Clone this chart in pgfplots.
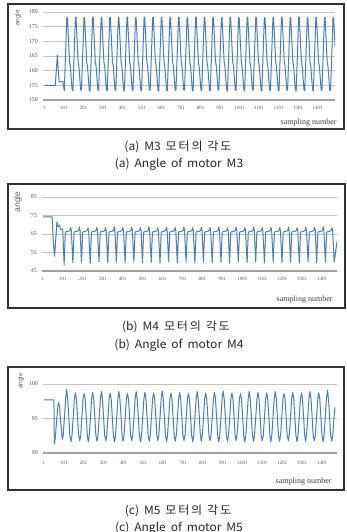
\documentclass[border=0pt]{standalone}
\usepackage{pgfplots}
\pgfplotsset{compat=1.18}
\usepackage{fontspec}
\setmainfont{Liberation Serif}
\newfontfamily\kr[FakeStretch=1.05, WordSpace=1.8]{Noto Sans CJK KR}
\newfontfamily\lsans{Liberation Sans}
\newcommand{\ks}{\hspace{1.8pt}}
\definecolor{exblue}{RGB}{74,126,187}
\definecolor{gridgray}{RGB}{195,195,195}
\definecolor{axisgray}{RGB}{160,160,160}
\definecolor{tickgray}{RGB}{90,90,90}
\pgfplotsset{
 panel/.style={
  scale only axis, anchor=south west,
  axis x line*=bottom, axis y line*=left,
  x axis line style={draw=axisgray, line width=2.4pt},
  y axis line style={draw=none},
  major tick length=0pt,
  ymajorgrids, grid style={draw=gridgray, line width=0.5pt},
  xtick={1,101,...,1401},
  tick label style={text=tickgray},
  xticklabel style={font=\fontsize{5}{6}\selectfont, anchor=north, inner sep=0pt, yshift=-6pt},
  yticklabel style={font=\fontsize{6}{7}\selectfont, anchor=east, inner sep=0pt, xshift=-5pt},
  /pgf/number format/assume math mode=true,
  /pgf/number format/1000 sep={},
 },
 dline/.style={exblue, line width=1pt, no markers, line join=round}
}
\begin{document}
\begin{tikzpicture}[x=1pt,y=1pt]
\useasboundingbox (0,0) rectangle (347,532);
\fill[white] (0,0) rectangle (347,532);
% ---------------- panel (a)
\draw[line width=1.1pt, black!80] (8,403) rectangle (344,528);
\begin{axis}[panel, at={(43pt,432pt)}, width=292pt, height=88pt,
  xmin=-6, xmax=1490, ymin=150, ymax=180, ytick={150,155,...,180}]
\addplot[dline] coordinates {
(1,155.0)(57,155.0)(64,162)(68,165.3)(72,160)(77,156.2)(96,156.3)
(103,153.2)(116,178.0)(119,178.2)(125,170)(130,163)(134,161.5)(139,157)(143,153.5)
(147,153.1)(160,178.1)(163,178.3)(169,170)(174,163)(178,161.5)(183,157)(187,153.5)
(191,153.3)(204,178.0)(207,178.1)(213,170)(218,163)(222,161.5)(227,157)(231,153.4)
(235,153.0)(248,178.2)(251,178.3)(257,170)(262,163)(266,161.5)(271,157)(275,153.5)
(279,153.2)(292,178.0)(295,178.2)(301,170)(306,163)(310,161.5)(315,157)(319,153.5)
(323,153.1)(336,178.1)(339,178.2)(345,170)(350,163)(354,161.5)(359,157)(363,153.4)
(367,153.3)(380,178.0)(383,178.2)(389,170)(394,163)(398,161.5)(403,157)(407,153.5)
(411,153.0)(424,178.1)(427,178.3)(433,170)(438,163)(442,161.5)(447,157)(451,153.5)
(455,153.2)(468,178.0)(471,178.1)(477,170)(482,163)(486,161.5)(491,157)(495,153.4)
(499,153.1)(512,178.2)(515,178.3)(521,170)(526,163)(530,161.5)(535,157)(539,153.5)
(543,153.3)(556,178.0)(559,178.2)(565,170)(570,163)(574,161.5)(579,157)(583,153.5)
(587,153.0)(600,178.1)(603,178.2)(609,170)(614,163)(618,161.5)(623,157)(627,153.4)
(631,153.2)(644,178.0)(647,178.2)(653,170)(658,163)(662,161.5)(667,157)(671,153.5)
(675,153.1)(688,178.1)(691,178.3)(697,170)(702,163)(706,161.5)(711,157)(715,153.5)
(719,153.3)(732,178.0)(735,178.1)(741,170)(746,163)(750,161.5)(755,157)(759,153.4)
(763,153.0)(776,178.2)(779,178.3)(785,170)(790,163)(794,161.5)(799,157)(803,153.5)
(807,153.2)(820,178.0)(823,178.2)(829,170)(834,163)(838,161.5)(843,157)(847,153.5)
(851,153.1)(864,178.1)(867,178.2)(873,170)(878,163)(882,161.5)(887,157)(891,153.4)
(895,153.3)(908,178.0)(911,178.2)(917,170)(922,163)(926,161.5)(931,157)(935,153.5)
(939,153.0)(952,178.1)(955,178.3)(961,170)(966,163)(970,161.5)(975,157)(979,153.5)
(983,153.2)(996,178.0)(999,178.1)(1005,170)(1010,163)(1014,161.5)(1019,157)(1023,153.4)
(1027,153.1)(1040,178.2)(1043,178.3)(1049,170)(1054,163)(1058,161.5)(1063,157)(1067,153.5)
(1071,153.3)(1084,178.0)(1087,178.2)(1093,170)(1098,163)(1102,161.5)(1107,157)(1111,153.5)
(1115,153.0)(1128,178.1)(1131,178.2)(1137,170)(1142,163)(1146,161.5)(1151,157)(1155,153.4)
(1159,153.2)(1172,178.0)(1175,178.2)(1181,170)(1186,163)(1190,161.5)(1195,157)(1199,153.5)
(1203,153.1)(1216,178.1)(1219,178.3)(1225,170)(1230,163)(1234,161.5)(1239,157)(1243,153.5)
(1247,153.3)(1260,178.0)(1263,178.1)(1269,170)(1274,163)(1278,161.5)(1283,157)(1287,153.4)
(1291,153.0)(1304,178.2)(1307,178.3)(1313,170)(1318,163)(1322,161.5)(1327,157)(1331,153.5)
(1335,153.2)(1348,178.0)(1351,178.2)(1357,170)(1362,163)(1366,161.5)(1371,157)(1375,153.5)
(1379,153.1)(1392,178.1)(1395,178.2)(1401,170)(1406,163)(1410,161.5)(1415,157)(1419,153.4)
(1423,153.3)(1436,178.0)(1439,178.2)(1445,170)(1450,163)(1454,161.5)(1459,157)(1463,153.5)
(1467,153.1)(1480,178.1)(1483,178.2)(1489,170)(1490,168.5)
};
\end{axis}
\node[rotate=90, font=\lsans\fontsize{6.5}{7}\selectfont, text=black!60] at (18,514) {angle};
\node[anchor=east, font=\fontsize{8}{9}\selectfont, text=black!75] at (340,409) {sampling number};
\node[font=\kr\fontsize{11.5}{13}\selectfont, text=black!85] at (178,385) {(a) M3 모\ks 터\ks 의 각\ks 도};
\node[font=\kr\fontsize{11.5}{13}\selectfont, text=black!85] at (179,368) {(a) Angle of motor M3};
% ---------------- panel (b)
\draw[line width=1.1pt, black!80] (8,224) rectangle (345,348);
\begin{axis}[panel, at={(42pt,261pt)}, width=295pt, height=74pt,
  xmin=-4, xmax=1476, ymin=45, ymax=85, ytick={45,55,...,85}]
\addplot[dline] coordinates {
(1,74.3)(47,74.3)(52,62)(59,53)(71,71.5)(77,69)(84,69.8)(90,67.5)(100,67.5)
(107,48.3)(113,66)(117,66.2)(130,66.5)(136,67)(140,68.5)(143,66.8)
(151,49.5)(157,66)(161,66.2)(174,66.5)(180,67)(184,68.8)(187,66.8)
(194,49.8)(200,66)(204,66.2)(217,66.5)(223,67)(227,68.3)(230,66.8)
(238,49.2)(244,66)(248,66.2)(261,66.5)(267,67)(271,68.6)(274,66.8)
(282,50.0)(288,66)(292,66.2)(305,66.5)(311,67)(315,68.5)(318,66.8)
(326,49.5)(332,66)(336,66.2)(349,66.5)(355,67)(359,68.9)(362,66.8)
(369,49.8)(375,66)(379,66.2)(392,66.5)(398,67)(402,68.4)(405,66.8)
(413,49.3)(419,66)(423,66.2)(436,66.5)(442,67)(446,68.6)(449,66.8)
(457,49.9)(463,66)(467,66.2)(480,66.5)(486,67)(490,68.5)(493,66.8)
(500,49.5)(506,66)(510,66.2)(523,66.5)(529,67)(533,68.8)(536,66.8)
(544,49.7)(550,66)(554,66.2)(567,66.5)(573,67)(577,68.3)(580,66.8)
(588,49.2)(594,66)(598,66.2)(611,66.5)(617,67)(621,68.6)(624,66.8)
(631,50.0)(637,66)(641,66.2)(654,66.5)(660,67)(664,68.5)(667,66.8)
(675,49.5)(681,66)(685,66.2)(698,66.5)(704,67)(708,68.9)(711,66.8)
(719,49.8)(725,66)(729,66.2)(742,66.5)(748,67)(752,68.4)(755,66.8)
(763,49.3)(769,66)(773,66.2)(786,66.5)(792,67)(796,68.6)(799,66.8)
(806,49.9)(812,66)(816,66.2)(829,66.5)(835,67)(839,68.5)(842,66.8)
(850,49.5)(856,66)(860,66.2)(873,66.5)(879,67)(883,68.8)(886,66.8)
(894,49.7)(900,66)(904,66.2)(917,66.5)(923,67)(927,68.3)(930,66.8)
(937,49.2)(943,66)(947,66.2)(960,66.5)(966,67)(970,68.6)(973,66.8)
(981,50.0)(987,66)(991,66.2)(1004,66.5)(1010,67)(1014,68.5)(1017,66.8)
(1025,49.5)(1031,66)(1035,66.2)(1048,66.5)(1054,67)(1058,68.9)(1061,66.8)
(1068,49.8)(1074,66)(1078,66.2)(1091,66.5)(1097,67)(1101,68.4)(1104,66.8)
(1112,49.3)(1118,66)(1122,66.2)(1135,66.5)(1141,67)(1145,68.6)(1148,66.8)
(1156,49.9)(1162,66)(1166,66.2)(1179,66.5)(1185,67)(1189,68.5)(1192,66.8)
(1200,49.5)(1206,66)(1210,66.2)(1223,66.5)(1229,67)(1233,68.8)(1236,66.8)
(1243,49.7)(1249,66)(1253,66.2)(1266,66.5)(1272,67)(1276,68.3)(1279,66.8)
(1287,49.2)(1293,66)(1297,66.2)(1310,66.5)(1316,67)(1320,68.6)(1323,66.8)
(1331,50.0)(1337,66)(1341,66.2)(1354,66.5)(1360,67)(1364,68.5)(1367,66.8)
(1374,49.5)(1380,66)(1384,66.2)(1397,66.5)(1403,67)(1407,68.9)(1410,66.8)
(1418,49.8)(1424,66)(1428,66.2)(1441,66.5)(1447,67)(1451,68.4)(1454,66.8)
(1462,49.8)(1476,61)
};
\end{axis}
\node[rotate=90, font=\lsans\fontsize{8.5}{9}\selectfont, text=black!60] at (18,330) {angle};
\node[anchor=east, font=\fontsize{8}{9}\selectfont, text=black!75] at (336,232) {sampling number};
\node[font=\kr\fontsize{11.5}{13}\selectfont, text=black!85] at (176,205) {(b) M4 모\ks 터\ks 의 각\ks 도};
\node[font=\kr\fontsize{11.5}{13}\selectfont, text=black!85] at (179,187) {(b) Angle of motor M4};
% ---------------- panel (c)
\draw[line width=1.1pt, black!80] (8,42) rectangle (344,165);
\begin{axis}[panel, at={(43pt,79pt)}, width=294pt, height=69pt,
  xmin=-4, xmax=1476, ymin=90, ymax=100, ytick={90,95,100},
  xticklabel style={yshift=-2pt}]
\addplot[dline] coordinates {
(1,97.7)(51,97.7)(53,91.3)(58,92.2)(64,94.5)(71,96.8)(75,97.3)(79,96.8)(85,94.5)
(93,92.0)(98,92.6)(104,95.2)(110,97.9)(115,99.2)(120,97.9)(126,95.2)(131,92.6)
(137,91.6)(142,92.6)(148,95.2)(154,97.9)(159,98.7)(164,97.9)(170,95.2)(175,92.6)
(181,91.8)(186,92.6)(192,95.2)(198,97.9)(203,98.6)(208,97.9)(214,95.2)(219,92.6)
(224,91.6)(229,92.6)(235,95.2)(241,97.9)(246,98.8)(251,97.9)(257,95.2)(262,92.6)
(268,91.7)(273,92.6)(279,95.2)(285,97.9)(290,98.9)(295,97.9)(301,95.2)(306,92.6)
(312,91.8)(317,92.6)(323,95.2)(329,97.9)(334,98.7)(339,97.9)(345,95.2)(350,92.6)
(356,91.6)(361,92.6)(367,95.2)(373,97.9)(378,98.9)(383,97.9)(389,95.2)(394,92.6)
(399,91.7)(404,92.6)(410,95.2)(416,97.9)(421,98.6)(426,97.9)(432,95.2)(437,92.6)
(443,91.8)(448,92.6)(454,95.2)(460,97.9)(465,98.9)(470,97.9)(476,95.2)(481,92.6)
(487,91.6)(492,92.6)(498,95.2)(504,97.9)(509,98.8)(514,97.9)(520,95.2)(525,92.6)
(531,91.7)(536,92.6)(542,95.2)(548,97.9)(553,98.7)(558,97.9)(564,95.2)(569,92.6)
(574,91.8)(579,92.6)(585,95.2)(591,97.9)(596,99.0)(601,97.9)(607,95.2)(612,92.6)
(618,91.6)(623,92.6)(629,95.2)(635,97.9)(640,98.7)(645,97.9)(651,95.2)(656,92.6)
(662,91.7)(667,92.6)(673,95.2)(679,97.9)(684,98.8)(689,97.9)(695,95.2)(700,92.6)
(706,91.8)(711,92.6)(717,95.2)(723,97.9)(728,98.6)(733,97.9)(739,95.2)(744,92.6)
(750,91.6)(755,92.6)(761,95.2)(767,97.9)(772,98.9)(777,97.9)(783,95.2)(788,92.6)
(793,91.7)(798,92.6)(804,95.2)(810,97.9)(815,98.7)(820,97.9)(826,95.2)(831,92.6)
(837,91.8)(842,92.6)(848,95.2)(854,97.9)(859,98.8)(864,97.9)(870,95.2)(875,92.6)
(881,91.6)(886,92.6)(892,95.2)(898,97.9)(903,99.0)(908,97.9)(914,95.2)(919,92.6)
(925,91.7)(930,92.6)(936,95.2)(942,97.9)(947,98.7)(952,97.9)(958,95.2)(963,92.6)
(968,91.8)(973,92.6)(979,95.2)(985,97.9)(990,98.6)(995,97.9)(1001,95.2)(1006,92.6)
(1012,91.6)(1017,92.6)(1023,95.2)(1029,97.9)(1034,98.9)(1039,97.9)(1045,95.2)(1050,92.6)
(1056,91.7)(1061,92.6)(1067,95.2)(1073,97.9)(1078,98.8)(1083,97.9)(1089,95.2)(1094,92.6)
(1100,91.8)(1105,92.6)(1111,95.2)(1117,97.9)(1122,98.7)(1127,97.9)(1133,95.2)(1138,92.6)
(1143,91.6)(1148,92.6)(1154,95.2)(1160,97.9)(1165,98.9)(1170,97.9)(1176,95.2)(1181,92.6)
(1187,91.7)(1192,92.6)(1198,95.2)(1204,97.9)(1209,98.6)(1214,97.9)(1220,95.2)(1225,92.6)
(1231,91.8)(1236,92.6)(1242,95.2)(1248,97.9)(1253,98.8)(1258,97.9)(1264,95.2)(1269,92.6)
(1275,91.6)(1280,92.6)(1286,95.2)(1292,97.9)(1297,98.7)(1302,97.9)(1308,95.2)(1313,92.6)
(1318,91.7)(1323,92.6)(1329,95.2)(1335,97.9)(1340,98.9)(1345,97.9)(1351,95.2)(1356,92.6)
(1362,91.8)(1367,92.6)(1373,95.2)(1379,97.9)(1384,98.7)(1389,97.9)(1395,95.2)(1400,92.6)
(1406,91.6)(1411,92.6)(1417,95.2)(1423,97.9)(1428,99.1)(1433,97.9)(1439,95.2)(1444,92.6)
(1450,91.7)(1455,92.6)(1461,95.2)(1466,96.6)
};
\end{axis}
\node[rotate=90, font=\lsans\fontsize{6.5}{7}\selectfont, text=black!60] at (21,151) {angle};
\node[anchor=east, font=\fontsize{8}{9}\selectfont, text=black!75] at (335,50) {sampling number};
\node[font=\kr\fontsize{11.5}{13}\selectfont, text=black!85] at (178,21) {(c) M5 모\ks 터\ks 의 각\ks 도};
\node[font=\kr\fontsize{11.5}{13}\selectfont, text=black!85] at (179,4) {(c) Angle of motor M5};
\end{tikzpicture}
\end{document}
